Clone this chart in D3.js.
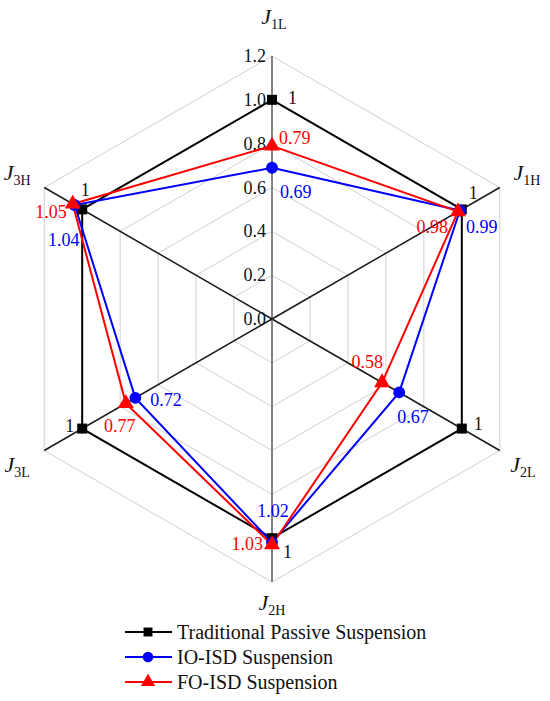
<!DOCTYPE html>
<html>
<head>
<meta charset="utf-8">
<script src="https://cdn.jsdelivr.net/npm/d3@7"></script>
<style>
  body { margin: 0; background: #fff; }
</style>
</head>
<body>
<script>
// data
var axes = [["J", "1L"], ["J", "1H"], ["J", "2L"], ["J", "2H"], ["J", "3L"], ["J", "3H"]];
var ticks = [0, 0.2, 0.4, 0.6, 0.8, 1.0, 1.2];
var seriesNames = ["Traditional Passive Suspension", "IO-ISD Suspension", "FO-ISD Suspension"];
var passive = [1, 1, 1, 1, 1, 1];
var ioIsd = [0.69, 0.99, 0.67, 1.02, 0.72, 1.04];
var foIsd = [0.79, 0.98, 0.58, 1.03, 0.77, 1.05];

var colors = ["#000000", "#0000ff", "#ff0000"];
var shapes = [d3.symbolSquare, d3.symbolCircle, d3.symbolTriangle];
var symSize = [100, 110, 110];
var font = "'Liberation Serif', 'Times New Roman', Times, 'DejaVu Serif', 'Noto Serif', serif";

// label placement relative to each marker: [dx, dy, anchor]
var labelPos = [
  [[16, 4, "start"], [7, -10, "start"], [12, 1, "start"], [11, 20, "start"], [-8, 3, "end"], [3, -13, "middle"]],
  [[8, 30, "start"], [6, 22, "start"], [-2, 31, "start"], [1, -26, "middle"], [15, 8, "start"], [5, 41, "end"]],
  [[7, -2, "start"], [-10, 21, "end"], [1, -15, "end"], [-9, 5, "end"], [-6, 29, "middle"], [-6, 14, "end"]]
];
var axisLabelNudge = [[2, 0], [2, 0], [-2, 0], [0, -8], [-2, 0], [-2, 0]];

var width = 550, height = 701;
var cx = 272, cy = 319;

var svg = d3.select("body").append("svg")
    .attr("width", width)
    .attr("height", height)
    .style("font-family", font);

var r = d3.scaleLinear().domain([0, 1.2]).range([0, 263]);
var angle = function(i) { return i * Math.PI / 3; };
var px = function(i, v) { return cx + r(v) * Math.sin(angle(i)); };
var py = function(i, v) { return cy - r(v) * Math.cos(angle(i)); };

var g = svg.append("g");

// grid hexagons
ticks.slice(1).forEach(function(t) {
  var pts = axes.map(function(a, i) { return [px(i, t), py(i, t)]; });
  g.append("path")
    .attr("d", d3.line()(pts) + "Z")
    .attr("fill", "none")
    .attr("stroke", "#cfcfcf")
    .attr("stroke-width", 1);
});

// spokes
axes.forEach(function(a, i) {
  g.append("line")
    .attr("x1", cx).attr("y1", cy)
    .attr("x2", px(i, 1.2)).attr("y2", py(i, 1.2))
    .attr("stroke", i === 0 || i === 3 ? "#5a5a5a" : "#1a1a1a")
    .attr("stroke-width", 1.5);
});

// tick labels on the vertical axis
g.selectAll(".tick")
    .data(ticks)
  .enter().append("text")
    .attr("x", cx - 6)
    .attr("y", function(d) { return cy - r(d) + 6; })
    .attr("text-anchor", "end")
    .attr("font-size", 18)
    .attr("fill", "#111")
    .text(function(d) { return d3.format(".1f")(d); });

// axis labels
axes.forEach(function(a, i) {
  var lx = px(i, 1.2) + 29 * Math.sin(angle(i)) + axisLabelNudge[i][0];
  var ly = py(i, 1.2) - 29 * Math.cos(angle(i)) + axisLabelNudge[i][1];
  if (i === 0) ly -= 10;
  var t = g.append("text")
    .attr("x", lx)
    .attr("y", ly + 7)
    .attr("text-anchor", "middle")
    .attr("fill", "#111");
  t.append("tspan").attr("font-style", "italic").attr("font-size", 22).text(a[0]);
  t.append("tspan").attr("font-size", 14).attr("dy", 5).text(a[1]);
});

var allSeries = [passive, ioIsd, foIsd];

// series polygons
allSeries.forEach(function(vals, s) {
  var pts = vals.map(function(v, i) { return [px(i, v), py(i, v)]; });
  g.append("path")
    .attr("d", d3.line()(pts) + "Z")
    .attr("fill", "none")
    .attr("stroke", colors[s])
    .attr("stroke-width", 2);
});

// markers
allSeries.forEach(function(vals, s) {
  g.selectAll(".m" + s)
      .data(vals)
    .enter().append("path")
      .attr("d", d3.symbol().type(shapes[s]).size(symSize[s]))
      .attr("transform", function(d, i) { return "translate(" + px(i, d) + "," + py(i, d) + ")"; })
      .attr("fill", colors[s]);
});

// value labels
allSeries.forEach(function(vals, s) {
  g.selectAll(".l" + s)
      .data(vals)
    .enter().append("text")
      .attr("x", function(d, i) { return px(i, d) + labelPos[s][i][0]; })
      .attr("y", function(d, i) { return py(i, d) + labelPos[s][i][1]; })
      .attr("text-anchor", function(d, i) { return labelPos[s][i][2]; })
      .attr("font-size", 18)
      .attr("fill", s === 0 ? "#111" : colors[s])
      .text(function(d) { return d === 1 ? "1" : d; });
});

// legend
var legend = svg.append("g").attr("transform", "translate(125,632)");
seriesNames.forEach(function(name, s) {
  var row = legend.append("g").attr("transform", "translate(0," + s * 25 + ")");
  row.append("line")
    .attr("x1", 0).attr("x2", 47)
    .attr("stroke", colors[s])
    .attr("stroke-width", 2);
  row.append("path")
    .attr("d", d3.symbol().type(shapes[s]).size(symSize[s] * 0.8))
    .attr("transform", "translate(23,0)")
    .attr("fill", colors[s]);
  row.append("text")
    .attr("x", 52)
    .attr("y", 7)
    .attr("font-size", 20)
    .attr("fill", "#111")
    .text(name);
});
</script>
</body>
</html>
